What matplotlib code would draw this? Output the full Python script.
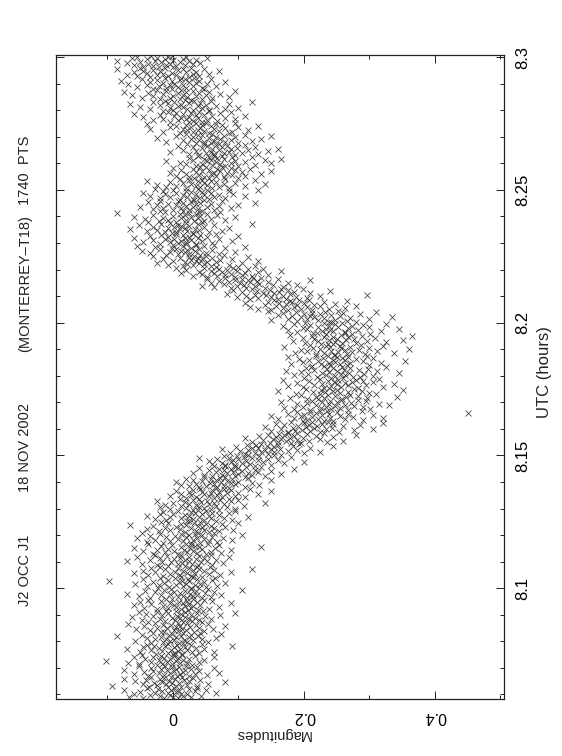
import numpy as np
import matplotlib
matplotlib.use("Agg")
import matplotlib.pyplot as plt
from matplotlib.ticker import MultipleLocator, FixedLocator

plt.rcParams['font.family'] = ['Liberation Sans', 'DejaVu Sans']

# ---- data -------------------------------------------------------------
n_points = 1740
utc_start = 8.0585
utc_end = 8.3005

# magnitudes in milli-mag in time order (30 per line)
magnitudes_mmag = [
    -45, 7, -13, 28, -67, 0, 16, -20, 43, -35, -5, 12, -60, 21, -8, 65, -27, 4, -50, 33, 9, -16, 50, -75, -3, 24, -23, 36, -40, 1,
    13, -37, -7, 36, -93, 5, -24, 22, -11, 53, -46, -2, -29, 9, 80, -17, -58, 25, -6, 17, -41, 42, -20, 3, -75, 30, -14, 14, -33, -3,
    25, -38, 6, -14, 52, -60, 11, 33, -5, -22, 71, -44, 15, 1, -30, 40, -9, 18, -75, 28, 4, -18, 62, -33, 9, -2, 37, -52, 20, -12,
    -25, 29, -52, -2, -16, 21, -69, 10, 39, -34, -9, 4, -103, 16, 48, -21, -5, -42, 25, -13, 7, 62, -30, -60, 2, 33, -19, 14, -47, 0,
    14, -26, 40, -8, 3, -51, 29, 62, -17, 8, -34, 22, -3, 48, -70, 11, 35, -21, 1, -46, 18, 90, -12, -29, 6, 27, -40, 44, -7, 16,
    -33, 9, 21, -15, 54, -4, -58, 31, 2, 17, -27, 45, -10, 66, -39, 5, 24, -19, -85, 38, 12, -6, 28, -48, 73, -1, 15, -30, 42, -13,
    32, -18, 8, 47, -35, 20, 1, -56, 61, 14, -9, 39, -24, 5, 26, -44, 80, 11, -15, 35, -3, 53, -68, 22, 7, -28, 44, 16, -38, 29,
    -12, 40, 3, -47, 25, 58, -20, 10, -2, 34, -63, 18, 49, -30, 6, 72, -16, 28, -41, 13, 95, -7, 37, -25, 19, -52, 4, 46, -11, 23,
    38, -25, 12, 55, -8, 27, -44, 5, 70, -15, 31, 18, -60, 42, 2, -33, 24, 88, -4, 15, -50, 36, 9, -19, 60, 21, -38, 47, -1, 30,
    -10, 44, 22, -35, 58, 8, -52, 30, 15, -18, 73, 37, -5, 26, -70, 49, 11, 2, -28, 62, 19, -42, 35, 105, -14, 27, -3, 53, -23, 40,
    28, -6, 51, -40, 16, 67, -22, 34, 5, -58, 42, 20, -13, 80, 9, -30, 47, 25, -98, 14, 59, -8, 36, -45, 23, 3, 64, -20, 31, 12,
    45, -15, 28, 72, -38, 10, 55, -5, 34, -60, 21, 88, 3, -27, 48, 16, -45, 62, 30, -12, 40, 120, -33, 25, 7, 57, -20, 36, -8, 18,
    -25, 38, 60, 8, -48, 29, 14, 77, -16, 43, -3, 25, -70, 52, 19, -35, 66, 1, 35, -20, 47, 11, -55, 85, 24, -9, 40, 58, -28, 13,
    50, 8, -30, 36, 74, -12, 22, 58, -45, 31, 2, 88, 17, -25, 45, -8, 64, 26, -60, 39, 12, 135, -18, 33, 70, -2, 27, -38, 54, 20,
    -15, 42, 28, 68, -40, 15, 55, -5, 90, 30, -28, 48, 8, -55, 37, 76, 20, -10, 60, 3, -35, 45, 24, 105, -20, 33, 12, 62, -48, 38,
    55, 18, -22, 70, 35, -5, 48, 92, 10, -40, 62, 27, -12, 44, 5, 80, -30, 38, 58, 20, -65, 50, 13, 75, -8, 32, 100, 42, -18, 25,
    22, 65, -10, 48, 90, 30, -28, 58, 12, 78, -5, 40, 115, 25, -40, 55, 18, 70, 0, 45, -20, 85, 33, 60, -15, 28, 95, 50, 8, 38,
    70, 30, -5, 58, 95, 20, 48, -20, 82, 40, 12, 66, 108, 35, -12, 55, 78, 25, 0, 62, 140, 43, 18, 88, -25, 52, 72, 30, 100, 10,
    40, 85, 20, 62, 110, 35, 75, -5, 55, 95, 28, 68, 130, 48, 12, 82, 58, 100, 25, 70, 45, 150, 5, 88, 60, 30, 78, 118, 42, 65,
    85, 40, 68, 110, 25, 78, 50, 132, 12, 95, 62, 35, 88, 120, 56, 5, 74, 100, 45, 82, 30, 65, 150, 58, 90, 20, 72, 115, 48, 80,
    110, 60, 95, 140, 75, 120, 48, 100, 165, 82, 30, 115, 92, 130, 65, 105, 150, 78, 55, 125, 88, 185, 70, 100, 40, 135, 95, 112, 62, 80,
    125, 80, 150, 95, 60, 118, 170, 105, 75, 138, 88, 200, 112, 55, 130, 92, 160, 100, 68, 145, 85, 120, 40, 180, 108, 132, 78, 98, 155, 115,
    165, 110, 145, 200, 125, 87, 155, 135, 225, 103, 175, 140, 115, 190, 150, 75, 163, 130, 210, 120, 155, 97, 183, 143, 245, 127, 160, 113, 193, 135,
    195, 148, 180, 235, 160, 120, 208, 172, 260, 138, 190, 165, 225, 152, 110, 198, 178, 245, 158, 185, 132, 218, 170, 280, 145, 205, 162, 190, 230, 175,
    175, 225, 253, 187, 210, 150, 277, 197, 233, 165, 305, 215, 183, 243, 203, 140, 260, 191, 220, 170, 285, 207, 245, 157, 227, 200, 320, 180, 237, 213,
    245, 198, 230, 290, 205, 160, 262, 222, 320, 185, 240, 212, 275, 195, 150, 255, 228, 305, 200, 238, 175, 268, 218, 450, 190, 250, 210, 235, 288, 225,
    210, 268, 185, 242, 301, 226, 255, 170, 290, 233, 198, 276, 247, 330, 218, 262, 190, 238, 315, 205, 272, 250, 165, 228, 295, 240, 212, 283, 256, 222,
    258, 205, 296, 231, 178, 264, 342, 219, 247, 283, 196, 236, 270, 310, 224, 188, 255, 300, 232, 268, 214, 245, 160, 289, 226, 352, 250, 203, 276, 238,
    230, 282, 198, 256, 320, 242, 175, 267, 295, 215, 250, 338, 228, 262, 190, 305, 246, 273, 208, 236, 290, 252, 168, 279, 224, 315, 260, 200, 241, 286,
    275, 220, 306, 248, 185, 262, 233, 292, 206, 257, 345, 227, 269, 195, 239, 312, 250, 172, 284, 216, 261, 298, 235, 203, 270, 244, 325, 211, 258, 230,
    212, 266, 240, 300, 226, 180, 255, 318, 238, 271, 199, 248, 290, 222, 355, 262, 207, 244, 280, 193, 258, 229, 305, 251, 176, 268, 236, 296, 218, 246,
    248, 293, 218, 265, 338, 231, 187, 274, 252, 205, 311, 242, 263, 196, 284, 360, 225, 257, 214, 299, 240, 170, 270, 233, 320, 255, 209, 287, 245, 226,
    236, 280, 201, 258, 325, 247, 222, 296, 183, 264, 239, 352, 215, 276, 250, 198, 308, 230, 268, 245, 365, 212, 289, 256, 178, 273, 234, 301, 220, 262,
    214, 262, 190, 245, 318, 228, 176, 282, 240, 205, 345, 233, 267, 198, 252, 300, 222, 168, 274, 238, 210, 290, 248, 185, 325, 230, 258, 202, 280, 242,
    238, 190, 265, 222, 150, 248, 205, 300, 176, 230, 270, 195, 215, 335, 182, 255, 210, 160, 242, 285, 200, 225, 168, 260, 212, 310, 188, 232, 145, 252,
    150, 212, 175, 238, 130, 195, 262, 168, 205, 118, 185, 225, 158, 280, 190, 140, 215, 172, 248, 162, 200, 110, 230, 182, 145, 265, 178, 208, 155, 192,
    172, 118, 160, 205, 130, 98, 188, 150, 225, 112, 168, 142, 296, 125, 178, 82, 155, 210, 138, 185, 105, 162, 240, 128, 175, 92, 148, 198, 120, 165,
    88, 140, 112, 62, 168, 98, 125, 45, 152, 108, 190, 78, 132, 102, 58, 175, 118, 85, 145, 70, 128, 210, 95, 115, 52, 160, 105, 135, 80, 122,
    95, 52, 120, 68, 30, 105, 80, 145, 45, 88, 12, 110, 62, 130, 75, 40, 98, 165, 58, 82, 20, 115, 70, 138, 48, 92, 5, 100, 65, 125,
    15, 58, 30, 85, -8, 48, 22, 105, 40, -25, 65, 18, 52, 130, 35, 0, 72, 28, 45, -15, 90, 38, 10, 60, 25, 115, -30, 50, 32, 78,
    42, -10, 25, 70, 8, -35, 50, 18, 95, -5, 33, 12, -48, 60, 22, -20, 40, 5, 80, -2, 28, 110, -28, 48, 15, -55, 35, 62, 0, 20,
    -20, 35, 8, 60, -45, 20, -5, 45, 90, 12, -30, 28, 2, 70, -12, 38, -60, 18, 52, -8, 25, 100, -35, 15, 42, -18, 5, 65, 30, -2,
    30, -12, 55, 5, -40, 22, 75, -25, 40, 10, -65, 33, 18, -8, 85, 2, 48, -30, 25, 12, -52, 62, 8, -18, 38, 120, -5, 20, -38, 45,
    5, 48, -22, 32, 80, -8, 20, 58, -42, 38, 12, -15, 95, 28, -60, 42, 0, 68, 18, -30, 52, 10, 35, -85, 25, 72, -12, 40, 15, -20,
    45, 0, 62, 25, -30, 38, 88, 12, -15, 52, 30, -50, 70, 20, 5, 100, -25, 35, 58, -8, 42, 15, 125, -38, 28, 8, 75, -20, 48, 32,
    10, 55, 30, -20, 80, 40, -5, 62, 22, 110, -35, 48, 15, 70, -12, 35, 92, 5, 58, -45, 28, 45, -15, 85, 20, 130, 0, 52, 38, -28,
    60, 20, 85, 42, -10, 70, 35, 110, 5, 52, -25, 78, 28, 140, 48, 15, 95, -5, 65, 38, -40, 58, 25, 125, 45, 10, 80, 32, 100, 55,
    25, 78, 48, 110, 65, 5, 90, 40, 135, 58, 20, 82, -5, 62, 105, 35, 72, 150, 45, 12, 95, 55, 30, 118, 68, 0, 88, 50, 75, 42,
    80, 35, 100, 60, 125, 20, 72, 45, 150, 88, 10, 65, 110, 52, -10, 95, 58, 140, 30, 78, 48, 165, 68, 25, 90, 55, 120, 38, 75, 62,
    40, 95, 62, 130, 25, 78, 105, 50, -5, 85, 58, 145, 35, 70, 115, 15, 88, 60, 160, 45, 98, 30, 75, 125, 52, 8, 82, 65, 110, 48,
    70, 22, 58, 100, 35, 80, -10, 48, 120, 62, 15, 88, 40, 135, 28, 72, -25, 55, 95, 30, 65, 150, 5, 78, 45, 110, 38, 60, 20, 85,
    10, 55, 30, 90, -15, 48, 70, 22, 115, 38, -35, 62, 15, 80, 42, -5, 100, 28, 58, 130, 5, 45, 75, 20, -40, 65, 35, 95, 50, 25,
    45, -5, 30, 68, 8, -30, 52, 20, 95, -15, 38, 12, 80, -45, 25, 60, 2, 110, 35, -20, 48, 15, -60, 72, 28, 5, 88, 40, -8, 55,
    -15, 30, 55, 0, 80, -35, 22, 45, -5, 100, 15, -50, 38, 65, 8, -20, 50, 12, -65, 85, 25, -8, 42, 2, 120, -30, 32, 58, -12, 18,
    28, -20, 45, 10, -48, 60, -5, 22, 85, -30, 35, 0, -62, 50, 15, -15, 72, 8, -38, 40, 20, -75, 55, -10, 30, 95, -25, 12, 48, -2,
    -30, 20, -10, 45, -55, 8, 30, -22, 65, -5, -40, 15, 52, -68, 2, 35, -15, 80, -35, 25, -2, -80, 40, 10, -25, 58, -48, 18, -12, 32,
    12, -35, 25, -55, -8, 40, -25, 5, -70, 30, -15, 55, -40, -2, 20, -60, 35, -20, 70, -45, 8, -30, 48, -85, 15, -12, 28, -50, 0, -22,
    -45, 5, -30, 18, -60, -10, 30, -38, -5, 42, -70, -18, 10, -50, 25, -28, -85, 0, 35, -40, -12, 15, -62, 52, -25, -8, 20, -55, -2, -33,
]

mag_major_ticks = [0, 0.2, 0.4]
mag_tick_labels = ["0", "0.2", "0.4"]
utc_major_ticks = [8.1, 8.15, 8.2, 8.25, 8.3]
utc_tick_labels = ["8.1", "8.15", "8.2", "8.25", "8.3"]
title_parts = ["J2 OCC J1", "18 NOV 2002", "(MONTERREY\u2013T18)", "1740  PTS"]

# ---- figure --------------------------------------------------------------
W, H = 562, 756
fig = plt.figure(figsize=(W / 100, H / 100), dpi=100)
ax = fig.add_axes([56 / W, 57 / H, 448 / W, 644 / H])

mags = np.array(magnitudes_mmag, dtype=float) / 1000.0
utc = np.linspace(utc_start, utc_end, len(mags))

ax.plot(mags, utc, linestyle='none', marker='x', markersize=4.2,
        markeredgewidth=0.55, color='#3a3a3a')

ax.set_xlim(-0.1786, 0.5055)
ax.set_ylim(8.0583, 8.3008)

ax.xaxis.set_major_locator(FixedLocator(mag_major_ticks))
ax.set_xticklabels(mag_tick_labels)
ax.xaxis.set_minor_locator(MultipleLocator(0.1))
ax.yaxis.set_major_locator(FixedLocator(utc_major_ticks))
ax.set_yticklabels(utc_tick_labels)
ax.yaxis.set_minor_locator(MultipleLocator(0.01))

ax.tick_params(which='both', direction='in', top=True, bottom=True,
               left=True, right=True, labelleft=False, labelright=True,
               width=0.7, color='#222222')
ax.tick_params(which='major', length=5.5)
ax.tick_params(which='minor', length=3.2)
ax.tick_params(axis='y', which='major', pad=8, labelsize=12)
ax.tick_params(axis='x', which='major', pad=7, labelsize=11.5)

for lab in ax.get_yticklabels():
    lab.set_rotation(90)
    lab.set_va('center')
    lab.set_ha('left')
for lab in ax.get_xticklabels():
    lab.set_rotation(180)

for sp in ax.spines.values():
    sp.set_linewidth(0.9)
    sp.set_color('#222222')

# axis labels
fig.text(545 / W, 1 - 372 / H, "UTC (hours)", rotation=90, ha='center',
         va='center', fontsize=12, color='#222222')
fig.text(273 / W, 1 - 734 / H, "Magnitudes", rotation=180, ha='center',
         va='center', fontsize=10.5, color='#222222')

# title parts (rotated, left side)
title_y = [570, 447, 284, 170]
for txt, yy in zip(title_parts, title_y):
    fig.text(25 / W, 1 - yy / H, txt, rotation=90, ha='center', va='center',
             fontsize=10.5, color='#222222')

fig.savefig("out.png", dpi=100)
